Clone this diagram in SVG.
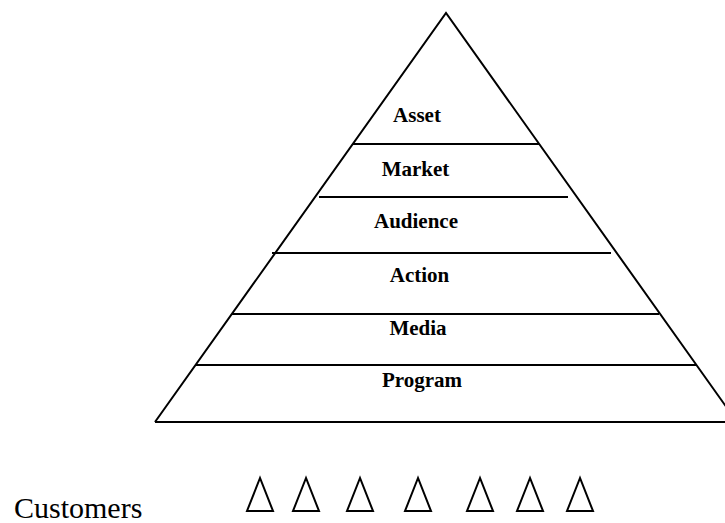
<svg xmlns="http://www.w3.org/2000/svg" width="725" height="523" viewBox="0 0 725 523">
  <style>
    .edge { fill: none; stroke: #000; stroke-width: 2; stroke-linejoin: miter; }
    .tier { stroke: #000; stroke-width: 2; }
    .label { font-family: "Liberation Serif", "Times New Roman", serif; font-weight: bold; font-size: 21px; fill: #000; text-anchor: middle; }
    .caption { font-family: "Liberation Serif", "Times New Roman", serif; font-size: 30px; fill: #000; }
    .person { fill: none; stroke: #000; stroke-width: 2; stroke-linejoin: miter; }
  </style>
  <rect width="725" height="523" fill="#fff"/>

  <!-- pyramid outline -->
  <g id="pyramid">
    <polyline class="edge" points="155,422 446,13 737,422"/>
    <line class="tier" x1="155" y1="422" x2="725" y2="422"/>
  </g>

  <!-- tier dividers -->
  <g id="dividers">
    <line class="tier" x1="353" y1="144" x2="539" y2="144"/>
    <line class="tier" x1="319" y1="197" x2="568" y2="197"/>
    <line class="tier" x1="272" y1="253" x2="611" y2="253"/>
    <line class="tier" x1="232" y1="314" x2="659" y2="314"/>
    <line class="tier" x1="195" y1="365" x2="697" y2="365"/>
  </g>

  <g id="tier-asset"><text class="label" x="417" y="122">Asset</text></g>
  <g id="tier-market"><text class="label" x="415.5" y="176">Market</text></g>
  <g id="tier-audience"><text class="label" x="416" y="228">Audience</text></g>
  <g id="tier-action"><text class="label" x="419.5" y="282">Action</text></g>
  <g id="tier-media"><text class="label" x="418" y="335">Media</text></g>
  <g id="tier-program"><text class="label" x="422" y="387">Program</text></g>

  <!-- customers row -->
  <g id="customers">
    <text class="caption" x="14" y="518">Customers</text>
  </g>
  <g id="customer-markers">
    <polygon class="person" points="260,478 247,511 273,511"/>
    <polygon class="person" points="306,478 293,511 319,511"/>
    <polygon class="person" points="360,478 347,511 373,511"/>
    <polygon class="person" points="418,478 405,511 431,511"/>
    <polygon class="person" points="480,478 467,511 493,511"/>
    <polygon class="person" points="530,478 517,511 543,511"/>
    <polygon class="person" points="580,478 567,511 593,511"/>
  </g>
</svg>
